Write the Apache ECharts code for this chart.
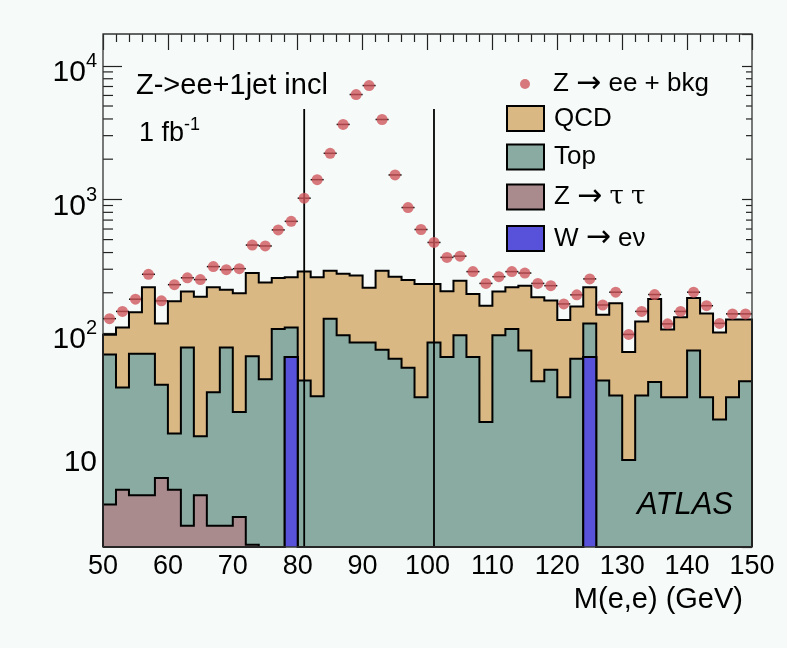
<!DOCTYPE html>
<html>
<head>
<meta charset="utf-8">
<script src="https://cdn.jsdelivr.net/npm/echarts@6/dist/echarts.min.js"></script>
<style>
html,body{margin:0;padding:0;background:#f6fbf9;}
#chart{width:787px;height:648px;}
</style>
</head>
<body>
<div id="chart"></div>
<script>
// ---------- data ----------
const binLow = [50,52,54,56,58,60,62,64,66,68,70,72,74,76,78,80,82,84,86,88,
                90,92,94,96,98,100,102,104,106,108,110,112,114,116,118,120,122,124,126,128,
                130,132,134,136,138,140,142,144,146,148];
const BIN_WIDTH = 2;

// Z -> ee + bkg (data points)
const dataCounts = [128,145,179,275,174,230,259,251,314,298,
                    303,455,448,591,685,1021,1405,2213,3640,6095,
                    7115,3963,1524,869,595,476,368,376,288,235,
                    264,288,281,235,226,165,193,254,162,202,
                    97.5,145,194,117,145,202,160,118,139,139];
// individual background contributions (stacked: W, Z->tautau, Top, QCD)
const wenuBkg = [0,0,0,0,0,0,0,0,0,0, 0,0,0,0,66,0,0,0,0,0,
              0,0,0,0,0,0,0,0,0,0, 0,0,0,0,0,0,0,66,0,0,
              0,0,0,0,0,0,0,0,0,0];
const ztautauBkg = [5.2,6.7,6.1,6.1,8.2,6.7,3.6,6.1,3.6,3.6, 4.2,2.6,0,0,0,0,0,0,0,0,
                 0,0,0,0,0,0,0,0,0,0, 0,0,0,0,0,0,0,0,0,0,
                 0,0,0,0,0,0,0,0,0,0];
const topBkg = [63.8,32.3,63.9,63.9,32.8,11.0,74.4,10.8,32.4,74.4,
             21.4,64.4,45,107,44,44,33.6,128,96,85,
             85,75,64,55,33,85,66,96,66,21.6,
             96,107,74,43.5,53,33,64,52,44,34,
             11.2,34,43,33,33,74,33,22.5,33,43.5];
const qcdBkg = [28,71,73,150,77,155.3,126,170.1,184,133,
             172.4,214,194,151,151,245,227.4,164,181,184,
             133,217,200,194,200,148,139,150,130,138.4,
             108,113,152,141.5,122,92,94,102,93,133,
             60.8,88,137,73,98,109,107,78.5,93,82.5];
const windowEdges = [81, 101];
const WINDOW_LINE_TOP = 4750;

const xTickInterval = 10;
const Y_MIN = 2.5, Y_MAX = 17300;

// ---------- styling ----------
const FONT = '"Liberation Sans", Arial, Helvetica, sans-serif';
const C_QCD = '#dab883', C_TOP = '#89aba1', C_ZTT = '#a98b8e', C_W = '#5752d9', C_DATA = '#d0585c';

// cumulative stacks
function addArr(a, b){ return a.map((v,i)=>v + b[i]); }
const cumW = wenuBkg.slice();
const cumZtt = addArr(cumW, ztautauBkg);
const cumTop = addArr(cumZtt, topBkg);
const cumQcd = addArr(cumTop, qcdBkg);

function histRender(cum, color){
  return function(params, api){
    const last = binLow.length - 1;
    const pts = [api.coord([binLow[0], Y_MIN])];
    for (let i = 0; i < cum.length; i++){
      const v = Math.max(cum[i], Y_MIN);
      pts.push(api.coord([binLow[i], v]));
      pts.push(api.coord([binLow[i] + BIN_WIDTH, v]));
    }
    pts.push(api.coord([binLow[last] + BIN_WIDTH, Y_MIN]));
    return {type:'group', children:[
      {type:'polygon', shape:{points:pts}, style:{fill:color, stroke:null}},
      {type:'polyline', shape:{points:pts}, style:{stroke:'#000', lineWidth:2, fill:null, lineJoin:'miter'}}
    ]};
  };
}
function histSeries(name, cum, color, z){
  return {
    name: name, type:'custom', z: z, silent:true,
    coordinateSystem:'cartesian2d', xAxisIndex:0, yAxisIndex:0,
    itemStyle:{color: color},
    data:[[binLow[0], Y_MIN]],
    encode:{x:0, y:1},
    renderItem: histRender(cum, color)
  };
}

// minor log ticks (2..9 x 10^k)
const minorTicks = [];
for (let k = 0; k <= 4; k++){
  for (let m = 2; m <= 9; m++){
    const v = m * Math.pow(10, k);
    if (v > Y_MIN && v < Y_MAX) minorTicks.push(v);
  }
}

const dataPts = dataCounts.map((v,i)=>[binLow[i] + BIN_WIDTH/2, v]);

const legendRich = {
  a:{fontSize:30, fontFamily:'"DejaVu Sans", sans-serif', color:'#000', lineHeight:25},
  t:{fontSize:26, fontFamily:'"DejaVu Serif", serif', color:'#000', lineHeight:25}
};
function legendFmt(name){
  return name.replace('→', '{a|→}').replace(/τ/g, '{t|τ}');
}

const chart = echarts.init(document.getElementById('chart'), null, {renderer:'canvas'});
const option = {
  backgroundColor:'#f6fbf9',
  animation:false,
  textStyle:{fontFamily:FONT},
  grid:{left:103, right:35, top:34, bottom:101, show:true, borderColor:'#333', borderWidth:1.3,
        backgroundColor:'transparent', z:20},
  xAxis:[
    {type:'value', min:50, max:150, interval:xTickInterval, position:'bottom', z:0,
     axisLine:{show:false}, axisTick:{show:false}, splitLine:{show:false},
     axisLabel:{fontSize:27, color:'#000', fontFamily:FONT, margin:6},
     name:'M(e,e) (GeV)', nameLocation:'end', nameGap:-9,
     nameTextStyle:{fontSize:29, color:'#000', fontFamily:FONT, align:'right', verticalAlign:'top', padding:[38,0,0,0]}},
    {type:'value', min:50, max:150, interval:xTickInterval, position:'top', z:0,
     axisLine:{show:false}, splitLine:{show:false}, axisLabel:{show:false},
     axisTick:{show:true, inside:true, length:16, lineStyle:{color:'#222', width:1.2}},
     minorTick:{show:true, splitNumber:5, length:8, lineStyle:{color:'#222', width:1.2}}}
  ],
  yAxis:[
    {type:'log', logBase:10, min:Y_MIN, max:Y_MAX, position:'left', z:0,
     axisLine:{show:false}, splitLine:{show:false},
     axisTick:{show:true, inside:true, length:19, lineStyle:{color:'#222', width:1.2}},
     axisLabel:{show:true, showMinLabel:false, showMaxLabel:false, margin:6, color:'#000',
       fontSize:30, fontFamily:FONT,
       formatter:function(v){
         const e = Math.round(Math.log10(v));
         if (Math.abs(v - Math.pow(10, e)) > 1e-6 * v) return '';
         if (e === 1) return '{p|10}';
         return '{b|10}{s|' + e + '}';
       },
       rich:{
         b:{fontSize:30, fontFamily:FONT, color:'#000', padding:[14,0,0,0]},
         s:{fontSize:20, fontFamily:FONT, color:'#000', padding:[0,0,8,0]},
         p:{fontSize:30, fontFamily:FONT, color:'#000', padding:[0,0,8,0]}
       }}},
    {type:'log', logBase:10, min:Y_MIN, max:Y_MAX, position:'right', z:0,
     axisLine:{show:false}, splitLine:{show:false}, axisLabel:{show:false},
     axisTick:{show:true, inside:true, length:10, lineStyle:{color:'#222', width:1.2}}}
  ],
  legend:[
    {data:['Z → ee + bkg'], left:520, top:69, padding:0, itemWidth:10, itemHeight:10,
     selectedMode:false, formatter:legendFmt,
     textStyle:{fontSize:26, fontFamily:FONT, color:'#000', lineHeight:26, padding:[0,0,0,18], rich:legendRich}},
    {data:[
       {name:'QCD', icon:'rect', itemStyle:{color:C_QCD, borderColor:'#000', borderWidth:2}},
       {name:'Top', icon:'rect', itemStyle:{color:C_TOP, borderColor:'#000', borderWidth:2}},
       {name:'Z → τ τ', icon:'rect', itemStyle:{color:C_ZTT, borderColor:'#000', borderWidth:2}},
       {name:'W → eν', icon:'rect', itemStyle:{color:C_W, borderColor:'#000', borderWidth:2}}
     ],
     orient:'vertical', left:506, top:105, padding:0, itemWidth:37, itemHeight:25, itemGap:11.5,
     selectedMode:false, formatter:legendFmt,
     textStyle:{fontSize:26, fontFamily:FONT, color:'#000', lineHeight:25, padding:[0,0,0,5], rich:legendRich}}
  ],
  graphic:[
    {type:'text', x:136, y:86, z:50, silent:true,
     style:{text:'Z->ee+1jet incl', fontSize:29, fontFamily:FONT, fill:'#000', verticalAlign:'middle', align:'left'}},
    {type:'text', x:139, y:134, z:50, silent:true,
     style:{text:'1 fb{s|-1}', fontSize:27, fontFamily:FONT, fill:'#000', verticalAlign:'middle', align:'left',
       rich:{s:{fontSize:18, fontFamily:FONT, fill:'#000', padding:[0,0,18,0]}}}},
    {type:'text', x:733, y:505, z:50, silent:true,
     style:{text:'ATLAS', fontSize:31, fontStyle:'italic', fontFamily:FONT, fill:'#000', verticalAlign:'middle', align:'right'}}
  ],
  series:[
    {name:'minorTicks', type:'custom', z:1, silent:true, coordinateSystem:'cartesian2d', xAxisIndex:0, yAxisIndex:0,
     data: minorTicks.map(v=>[50, v]), encode:{x:0, y:1},
     renderItem:function(params, api){
       const v = api.value(1);
       const l = api.coord([50, v]), r = api.coord([150, v]);
       const st = {stroke:'#222', lineWidth:1.2};
       return {type:'group', children:[
         {type:'line', shape:{x1:l[0], y1:l[1], x2:l[0]+10, y2:l[1]}, style:st},
         {type:'line', shape:{x1:r[0]-6, y1:r[1], x2:r[0], y2:r[1]}, style:st}
       ]};
     }},
    histSeries('QCD', cumQcd, C_QCD, 2),
    histSeries('Top', cumTop, C_TOP, 3),
    histSeries('Z → τ τ', cumZtt, C_ZTT, 4),
    histSeries('W → eν', cumW, C_W, 5),
    {name:'window', type:'custom', z:6, silent:true, coordinateSystem:'cartesian2d', xAxisIndex:0, yAxisIndex:0,
     data: windowEdges.map(x=>[x, WINDOW_LINE_TOP]), encode:{x:0, y:1},
     renderItem:function(params, api){
       const x = api.value(0), v = api.value(1);
       const a = api.coord([x, Y_MIN]), b = api.coord([x, v]);
       return {type:'line', shape:{x1:a[0], y1:a[1], x2:b[0], y2:b[1]}, style:{stroke:'#000', lineWidth:1.8}};
     }},
    {name:'errx', type:'custom', z:7, silent:true, coordinateSystem:'cartesian2d', xAxisIndex:0, yAxisIndex:0,
     data: dataPts, encode:{x:0, y:1},
     renderItem:function(params, api){
       const x = api.value(0), v = api.value(1);
       const a = api.coord([x - BIN_WIDTH/2, v]), b = api.coord([x + BIN_WIDTH/2, v]);
       return {type:'line', shape:{x1:a[0], y1:a[1], x2:b[0], y2:b[1]}, style:{stroke:'#000', lineWidth:1.5}};
     }},
    {name:'Z → ee + bkg', type:'scatter', z:8, silent:true, xAxisIndex:0, yAxisIndex:0,
     symbol:'circle', symbolSize:11, itemStyle:{color:C_DATA}, data: dataPts}
  ]
};
chart.setOption(option);
</script>
</body>
</html>
